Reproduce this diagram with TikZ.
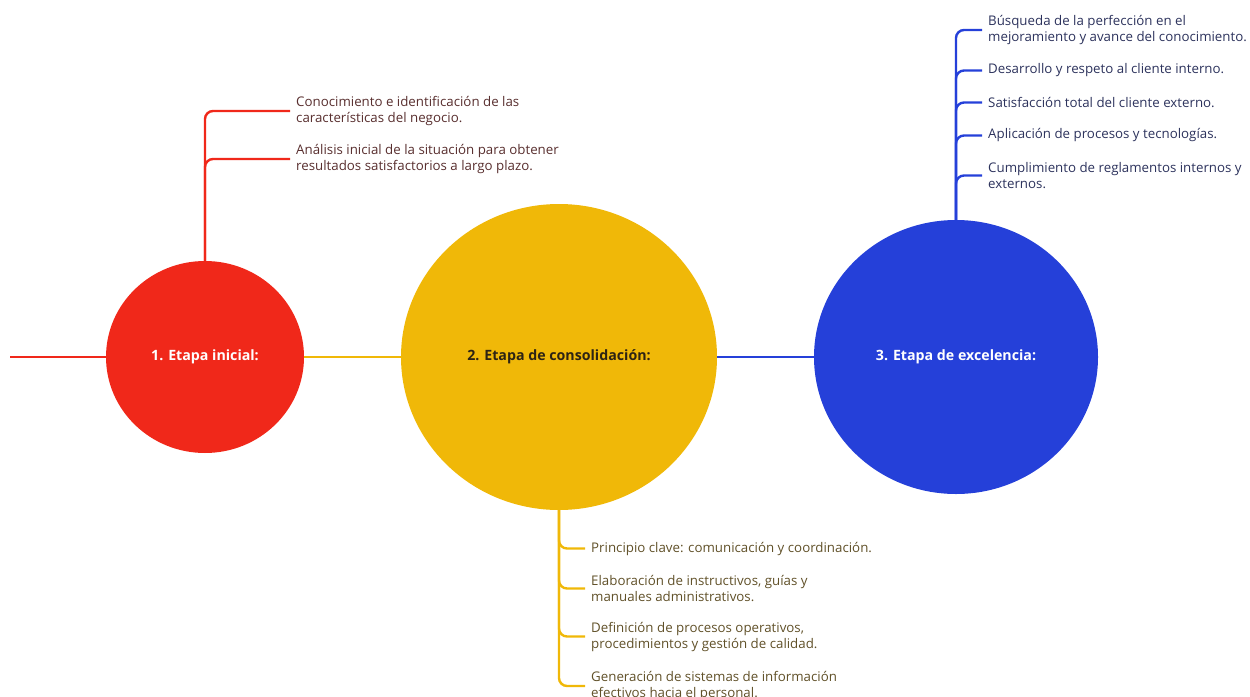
\documentclass[tikz,border=0pt]{standalone}
\usepackage{fontspec}
\setmainfont{Open Sans}
\usetikzlibrary{shapes.geometric}
\begin{document}
\begin{tikzpicture}[x=1pt,y=-1pt,
  spine/.style={line width=2.4pt},
  branch/.style={line width=2.4pt,rounded corners=8pt},
  stage/.style={ellipse,inner sep=0pt,text=white,font=\fontsize{14.2}{16}\selectfont\bfseries},
  item/.style={anchor=west,align=left,inner xsep=6pt,inner ysep=0pt,
    font=\fontsize{13.3}{16}\selectfont}]
\definecolor{cRed}{RGB}{240,40,26}
\definecolor{cYel}{RGB}{240,184,8}
\definecolor{cBlu}{RGB}{37,64,217}
\definecolor{tRed}{RGB}{88,46,46}
\definecolor{tYel}{RGB}{96,80,40}
\definecolor{tBlu}{RGB}{44,50,92}
\definecolor{tDark}{RGB}{45,35,20}
\useasboundingbox (0,0) rectangle (1250,696);

% main stages
\node[stage,fill=cRed,minimum width=198pt,minimum height=192pt] (s1) at (205,357) {1. Etapa inicial:};
\node[stage,fill=cYel,minimum width=316pt,minimum height=306pt,text=tDark] (s2) at (559,357) {2. Etapa de consolidación:};
\node[stage,fill=cBlu,minimum width=284pt,minimum height=274pt] (s3) at (956,357) {3. Etapa de excelencia:};

% horizontal spine
\coordinate (start) at (10,357);
\draw[spine,cRed] (start) -- (s1.west);
\draw[spine,cYel] (s1.east) -- (s2.west);
\draw[spine,cBlu] (s2.east) -- (s3.west);

% stage 1 items
\node[item,text=tRed] (r1) at (290,111) {Conocimiento e identificación de las\\características del negocio.};
\node[item,text=tRed] (r2) at (290,159) {Análisis inicial de la situación para obtener\\resultados satisfactorios a largo plazo.};
\foreach \n in {r1,r2} \draw[branch,cRed] (s1.north) |- (\n.west);

% stage 2 items
\node[item,text=tYel] (y1) at (585,548.5) {Principio clave: comunicación y coordinación.};
\node[item,text=tYel] (y2) at (585,588.5) {Elaboración de instructivos, guías y\\manuales administrativos.};
\node[item,text=tYel] (y3) at (585,636.5) {Definición de procesos operativos,\\procedimientos y gestión de calidad.};
\node[item,text=tYel] (y4) at (585,686) {Generación de sistemas de información\\efectivos hacia el personal.};
\foreach \n in {y1,y2,y3,y4} \draw[branch,cYel] (s2.south) |- (\n.west);

% stage 3 items
\node[item,text=tBlu] (b1) at (982,30) {Búsqueda de la perfección en el\\mejoramiento y avance del conocimiento.};
\node[item,text=tBlu] (b2) at (982,70.5) {Desarrollo y respeto al cliente interno.};
\node[item,text=tBlu] (b3) at (982,102.5) {Satisfacción total del cliente externo.};
\node[item,text=tBlu] (b4) at (982,135.5) {Aplicación de procesos y tecnologías.};
\node[item,text=tBlu] (b5) at (982,175.5) {Cumplimiento de reglamentos internos y\\externos.};
\foreach \n in {b1,b2,b3,b4,b5} \draw[branch,cBlu] (s3.north) |- (\n.west);
\end{tikzpicture}
\end{document}
